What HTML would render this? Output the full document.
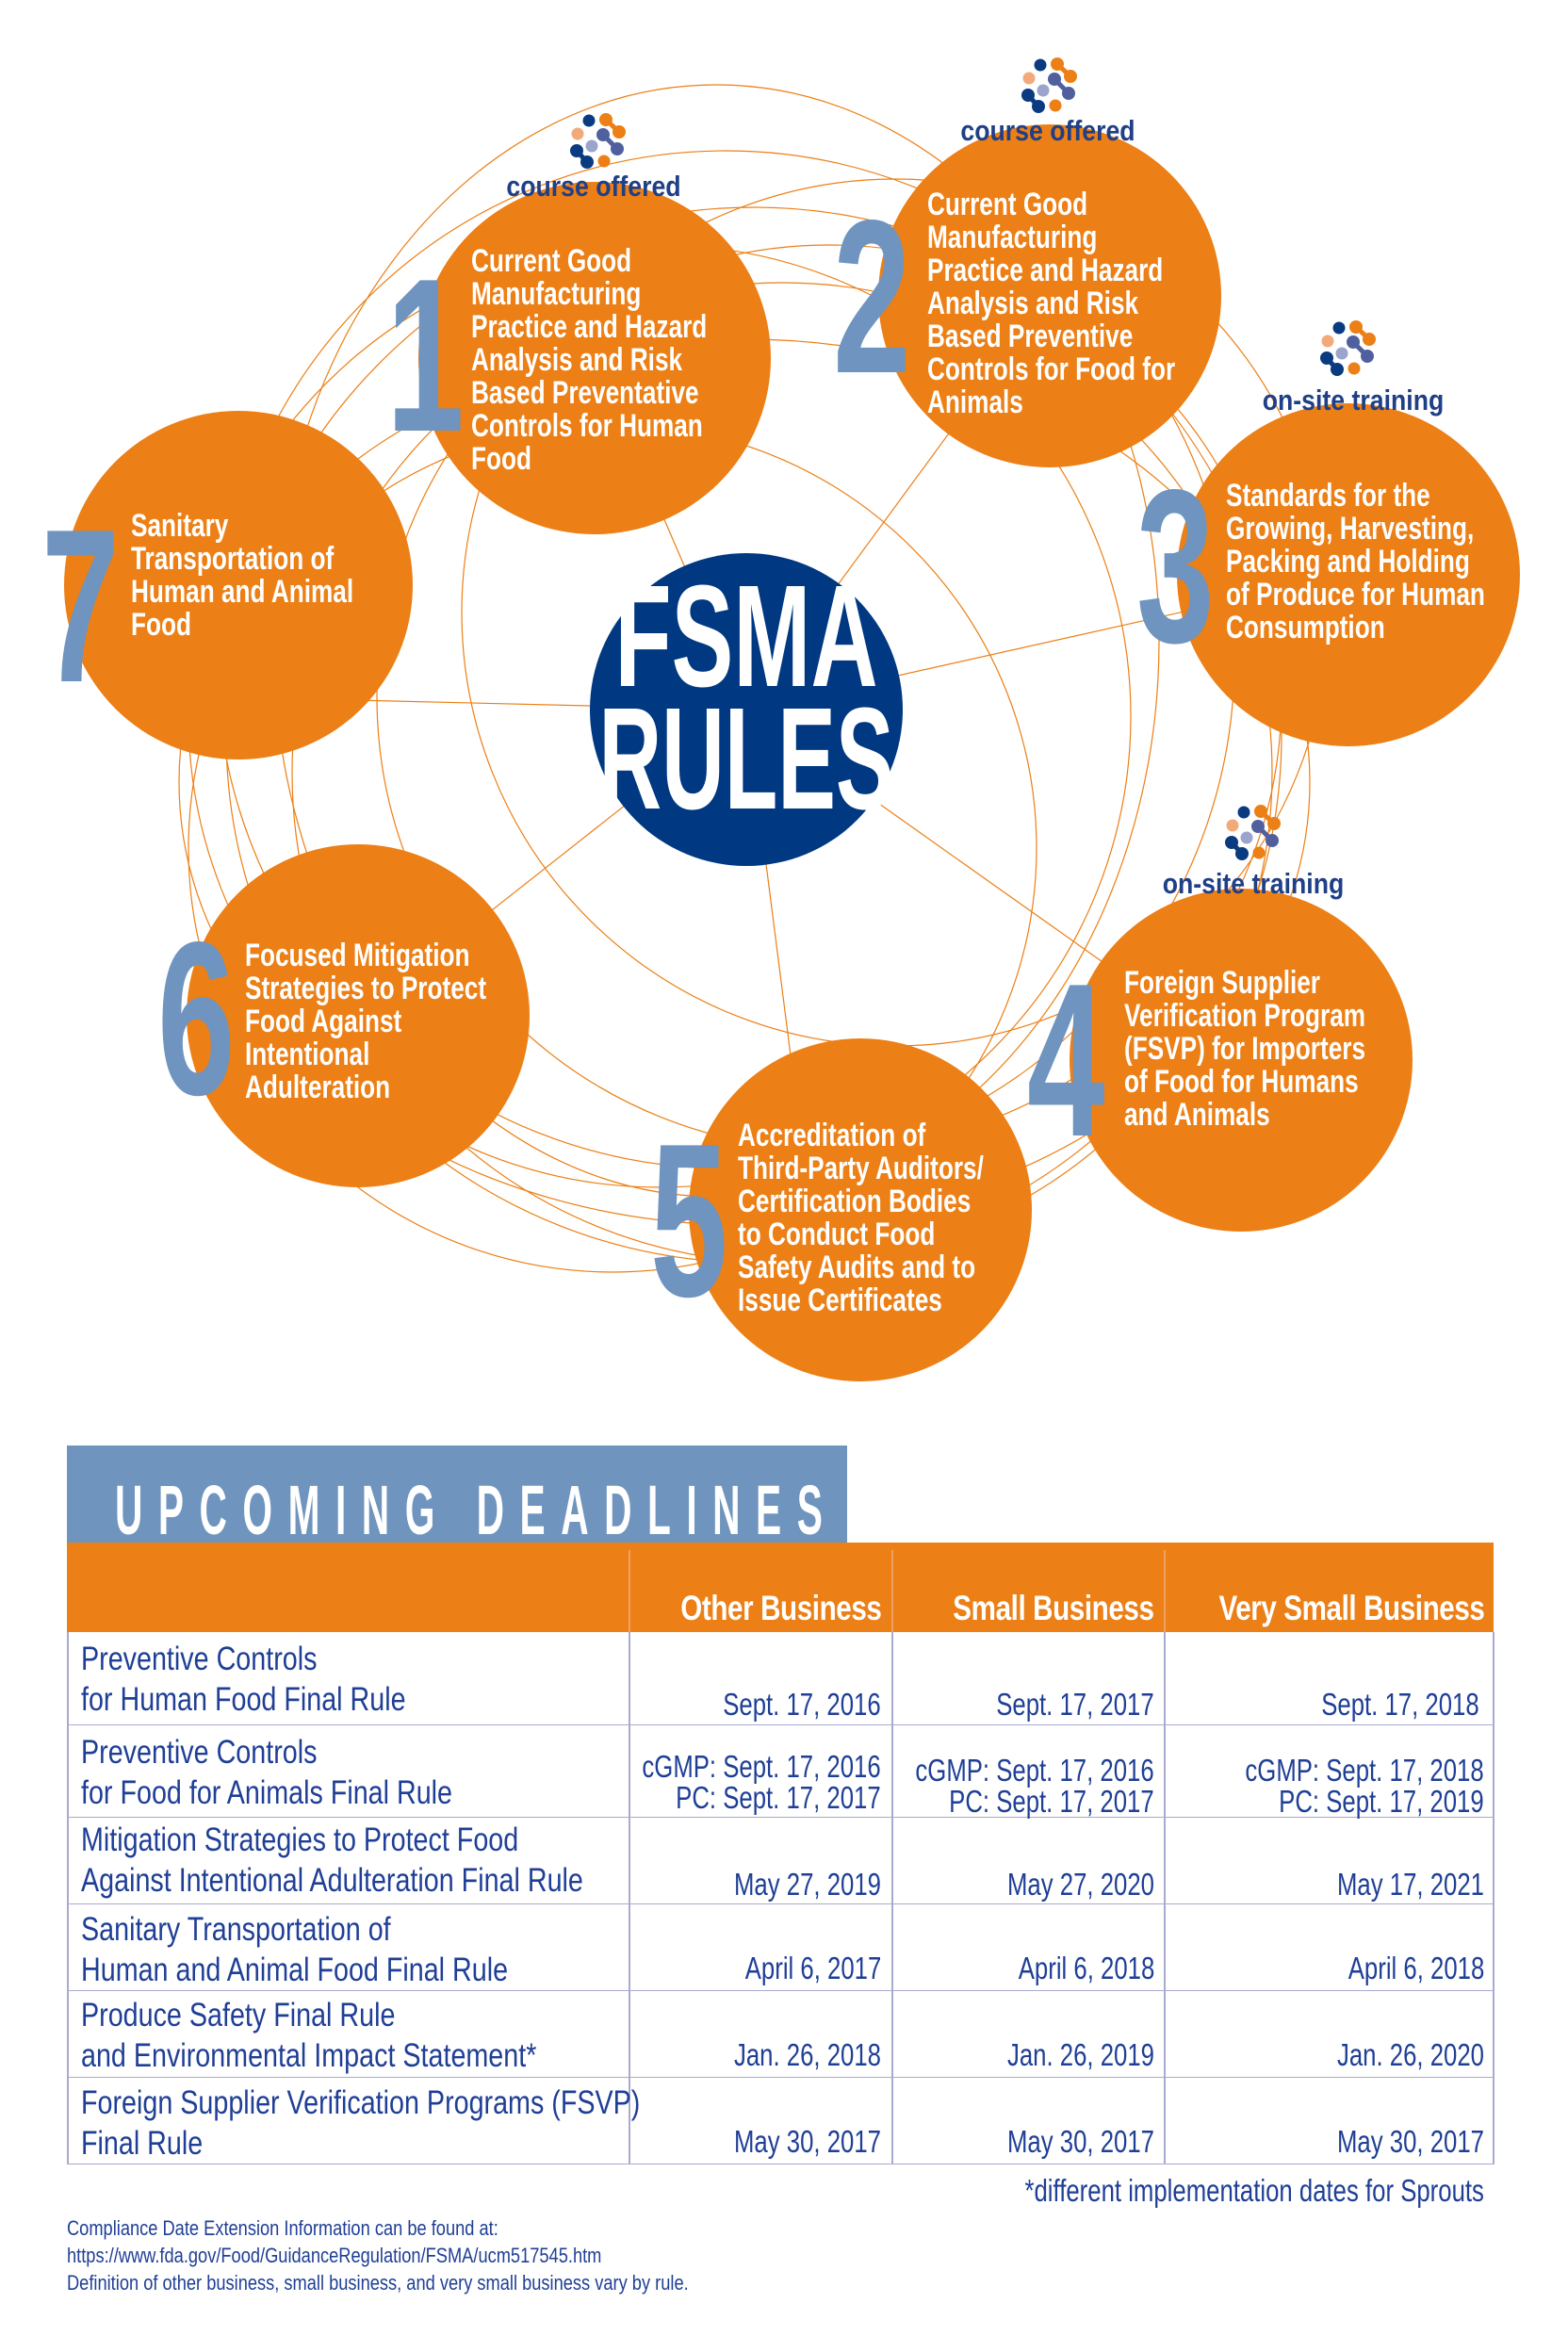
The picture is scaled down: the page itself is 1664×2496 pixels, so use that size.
<!DOCTYPE html>
<html><head><meta charset="utf-8">
<style>
*{margin:0;padding:0;box-sizing:border-box}
body{width:1664px;height:2496px;background:#fff;position:relative;overflow:hidden;font-family:"Liberation Sans",sans-serif}
.c{position:absolute;border-radius:50%;background:#ec7f15}
.n{position:absolute;color:#6f94bf;font-weight:bold;font-size:232px;line-height:1;transform:scaleX(0.64);transform-origin:left top}
.t{position:absolute;color:#fff;font-weight:bold;font-size:34px;line-height:35px;white-space:nowrap;transform:scaleX(0.77);transform-origin:left top}
.lab{position:absolute;color:#1f3f86;font-weight:bold;font-size:31px;white-space:nowrap;transform:translateX(-50%) scaleX(0.86)}
.a{position:absolute;white-space:nowrap}
.row{position:absolute;left:71px;width:1514px;border-bottom:1.5px solid #a9aad0}
.rl{position:absolute;left:86px;color:#1f3f96;font-size:35px;line-height:43px;white-space:nowrap;transform:scaleX(0.82);transform-origin:left top}
.d{position:absolute;color:#1f3f96;font-size:33px;line-height:33px;text-align:right;white-space:nowrap;transform:scaleX(0.78);transform-origin:right top}
.h{position:absolute;color:#fff;font-weight:bold;font-size:37px;line-height:37px;white-space:nowrap;transform:scaleX(0.8);transform-origin:right top;letter-spacing:-0.5px}
.vl{position:absolute;width:1.5px;background:#a9aad0}
</style></head><body>
<svg width="1664" height="1500" style="position:absolute;left:0;top:0" fill="none" stroke="#ec7f15" stroke-width="1.2">
<circle cx="800" cy="780" r="560"/>
<circle cx="770" cy="700" r="540"/>
<circle cx="830" cy="820" r="520"/>
<circle cx="700" cy="760" r="500"/>
<circle cx="880" cy="740" r="480"/>
<ellipse cx="790" cy="830" rx="600" ry="470"/>
<ellipse cx="760" cy="680" rx="470" ry="590"/>
<circle cx="650" cy="900" r="450"/>
<circle cx="950" cy="650" r="460"/>
<line x1="792" y1="753" x2="631" y2="380"/>
<line x1="792" y1="753" x2="1114" y2="314"/>
<line x1="792" y1="753" x2="1431" y2="610"/>
<line x1="792" y1="753" x2="1317" y2="1125"/>
<line x1="792" y1="753" x2="860" y2="1284"/>
<line x1="792" y1="753" x2="380" y2="1078"/>
<line x1="792" y1="753" x2="250" y2="740"/>
</svg>

<div class="c" style="left:444px;top:193px;width:374px;height:374px"></div>
<div class="c" style="left:932px;top:132px;width:364px;height:364px"></div>
<div class="c" style="left:1249px;top:428px;width:364px;height:364px"></div>
<div class="c" style="left:1135px;top:943px;width:364px;height:364px"></div>
<div class="c" style="left:731px;top:1102px;width:364px;height:364px"></div>
<div class="c" style="left:198px;top:896px;width:364px;height:364px"></div>
<div class="c" style="left:68px;top:436px;width:370px;height:370px"></div>
<div style="position:absolute;left:626px;top:587px;width:332px;height:332px;border-radius:50%;background:#003882"></div>
<div class="a" style="left:526px;width:532px;text-align:center;top:600px;color:#fff;font-weight:bold;font-size:154px;line-height:150px;transform:scaleX(0.64)">FSMA</div>
<div class="a" style="left:526px;width:532px;text-align:center;top:730px;color:#fff;font-weight:bold;font-size:154px;line-height:150px;transform:scaleX(0.6)">RULES</div>

<div class="n" style="left:410px;top:262px">1</div>
<div class="n" style="left:884px;top:200px">2</div>
<div class="n" style="left:1206px;top:486px">3</div>
<div class="n" style="left:1090px;top:1010px">4</div>
<div class="n" style="left:690px;top:1180px">5</div>
<div class="n" style="left:167px;top:966px">6</div>
<div class="n" style="left:44px;top:528px">7</div>

<div class="t" style="left:500px;top:260px">Current Good<br>Manufacturing<br>Practice and Hazard<br>Analysis and Risk<br>Based Preventative<br>Controls for Human<br>Food</div>
<div class="t" style="left:984px;top:200px">Current Good<br>Manufacturing<br>Practice and Hazard<br>Analysis and Risk<br>Based Preventive<br>Controls for Food for<br>Animals</div>
<div class="t" style="left:1301px;top:509px">Standards for the<br>Growing, Harvesting,<br>Packing and Holding<br>of Produce for Human<br>Consumption</div>
<div class="t" style="left:1193px;top:1026px">Foreign Supplier<br>Verification Program<br>(FSVP) for Importers<br>of Food for Humans<br>and Animals</div>
<div class="t" style="left:783px;top:1188px">Accreditation of<br>Third-Party Auditors/<br>Certification Bodies<br>to Conduct Food<br>Safety Audits and to<br>Issue Certificates</div>
<div class="t" style="left:260px;top:997px">Focused Mitigation<br>Strategies to Protect<br>Food Against<br>Intentional<br>Adulteration</div>
<div class="t" style="left:139px;top:541px">Sanitary<br>Transportation of<br>Human and Animal<br>Food</div>

<div class="lab" style="left:630px;top:180px">course offered</div>
<div class="lab" style="left:1112px;top:121px">course offered</div>
<div class="lab" style="left:1436px;top:407px">on-site training</div>
<div class="lab" style="left:1330px;top:920px">on-site training</div>

<svg width="0" height="0" style="position:absolute"><defs>
<g id="ic">
<line x1="8" y1="-23" x2="22" y2="-10" stroke="#ec7f15" stroke-width="5"/>
<circle cx="8" cy="-23" r="7" fill="#ec7f15"/><circle cx="22" cy="-10" r="7" fill="#ec7f15"/>
<line x1="5" y1="-7" x2="20" y2="8" stroke="#50609e" stroke-width="5"/>
<circle cx="5" cy="-7" r="7" fill="#50609e"/><circle cx="20" cy="8" r="7" fill="#50609e"/>
<line x1="-23" y1="10" x2="-12" y2="22" stroke="#0a3a80" stroke-width="5"/>
<circle cx="-23" cy="10" r="7" fill="#0a3a80"/><circle cx="-12" cy="22" r="7" fill="#0a3a80"/>
<circle cx="-10" cy="-22" r="6.5" fill="#0a3a80"/>
<circle cx="-22" cy="-8" r="6.5" fill="#f3aa7a"/>
<circle cx="-7" cy="5" r="6.5" fill="#9aa4cc"/>
<circle cx="6" cy="21" r="6.5" fill="#ec7f15"/>
</g></defs></svg>
<svg width="1664" height="1000" style="position:absolute;left:0;top:0">
<use href="#ic" x="635" y="150"/>
<use href="#ic" x="1114" y="91"/>
<use href="#ic" x="1431" y="370"/>
<use href="#ic" x="1330" y="884"/>
</svg>

<!-- table -->
<div style="position:absolute;left:71px;top:1534px;width:828px;height:104px;background:#6f94be"></div>
<div class="a" style="left:122px;top:1566px;color:#fff;font-weight:bold;font-size:74px;line-height:74px;letter-spacing:30px;transform:scaleX(0.55);transform-origin:left top">UPCOMING DEADLINES</div>
<div style="position:absolute;left:71px;top:1637px;width:1514px;height:95px;background:#ec7f15"></div>
<div class="vl" style="left:667px;top:1645px;height:652px;background:#f0a060"></div>
<div class="vl" style="left:946px;top:1645px;height:652px;background:#f0a060"></div>
<div class="vl" style="left:1235px;top:1645px;height:652px;background:#f0a060"></div>
<div class="vl" style="left:667px;top:1732px;height:565px"></div>
<div class="vl" style="left:946px;top:1732px;height:565px"></div>
<div class="vl" style="left:1235px;top:1732px;height:565px"></div>
<div class="vl" style="left:71px;top:1732px;height:565px"></div>
<div class="vl" style="left:1584px;top:1732px;height:565px"></div>
<div class="h" style="right:729px;top:1688px">Other Business</div>
<div class="h" style="right:439px;top:1688px">Small Business</div>
<div class="h" style="right:89px;top:1688px">Very Small Business</div>

<div class="row" style="top:1732px;height:99px"></div>
<div class="row" style="top:1831px;height:98px"></div>
<div class="row" style="top:1929px;height:92px"></div>
<div class="row" style="top:2021px;height:92px"></div>
<div class="row" style="top:2113px;height:92px"></div>
<div class="row" style="top:2205px;height:92px"></div>

<div class="rl" style="top:1739px">Preventive Controls<br>for Human Food Final Rule</div>
<div class="d" style="right:729px;top:1792px">Sept. 17, 2016</div>
<div class="d" style="right:439px;top:1792px">Sept. 17, 2017</div>
<div class="d" style="right:94px;top:1792px">Sept. 17, 2018</div>

<div class="rl" style="top:1838px">Preventive Controls<br>for Food for Animals Final Rule</div>
<div class="d" style="right:729px;top:1858px">cGMP: Sept. 17, 2016<br>PC: Sept. 17, 2017</div>
<div class="d" style="right:439px;top:1862px">cGMP: Sept. 17, 2016<br>PC: Sept. 17, 2017</div>
<div class="d" style="right:89px;top:1862px">cGMP: Sept. 17, 2018<br>PC: Sept. 17, 2019</div>

<div class="rl" style="top:1931px">Mitigation Strategies to Protect Food<br>Against Intentional Adulteration Final Rule</div>
<div class="d" style="right:729px;top:1983px">May 27, 2019</div>
<div class="d" style="right:439px;top:1983px">May 27, 2020</div>
<div class="d" style="right:89px;top:1983px">May 17, 2021</div>

<div class="rl" style="top:2026px">Sanitary Transportation of<br>Human and Animal Food Final Rule</div>
<div class="d" style="right:729px;top:2072px">April 6, 2017</div>
<div class="d" style="right:439px;top:2072px">April 6, 2018</div>
<div class="d" style="right:89px;top:2072px">April 6, 2018</div>

<div class="rl" style="top:2117px">Produce Safety Final Rule<br>and Environmental Impact Statement*</div>
<div class="d" style="right:729px;top:2164px">Jan. 26, 2018</div>
<div class="d" style="right:439px;top:2164px">Jan. 26, 2019</div>
<div class="d" style="right:89px;top:2164px">Jan. 26, 2020</div>

<div class="rl" style="top:2210px">Foreign Supplier Verification Programs (FSVP)<br>Final Rule</div>
<div class="d" style="right:729px;top:2256px">May 30, 2017</div>
<div class="d" style="right:439px;top:2256px">May 30, 2017</div>
<div class="d" style="right:89px;top:2256px">May 30, 2017</div>

<div class="d" style="right:89px;top:2308px">*different implementation dates for Sprouts</div>
<div class="a" style="left:71px;top:2350px;color:#1f3f96;font-size:22px;line-height:29px;transform:scaleX(0.83);transform-origin:left top">Compliance Date Extension Information can be found at:<br>https://www.fda.gov/Food/GuidanceRegulation/FSMA/ucm517545.htm<br>Definition of other business, small business, and very small business vary by rule.</div>
</body></html>
